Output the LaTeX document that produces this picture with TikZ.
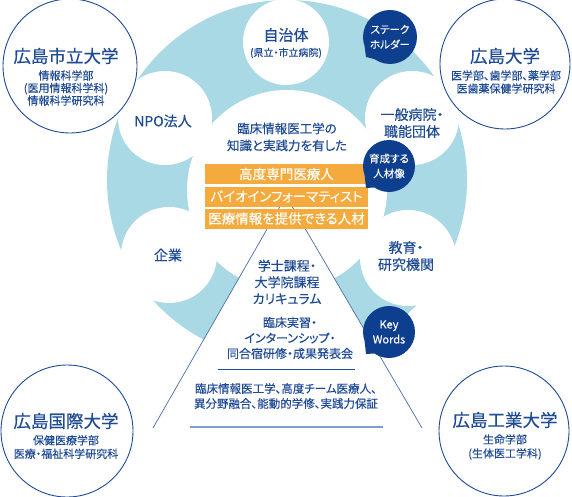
\documentclass[tikz,border=0pt]{standalone}
\usepackage{fontspec}
\setmainfont[RawFeature=+palt, FakeBold=0.3]{Noto Sans CJK JP}
\definecolor{navy}{HTML}{1F4A94}
\definecolor{bubble}{HTML}{0E3E8E}
\definecolor{ringblue}{HTML}{A8D9E5}
\definecolor{orng}{HTML}{F4AA3C}
\definecolor{tri}{HTML}{4A6CA8}
\definecolor{baseblue}{HTML}{7D9CCF}
\newcommand{\myfs}[2]{\fontsize{#1}{#2}\selectfont}
\tikzset{
  txt/.style={text=navy, inner sep=0pt, align=center},
  wtxt/.style={text=white, inner sep=0pt, align=center},
  univ/.style={draw=navy, line width=0.9pt, fill=white},
  obox/.style={fill=orng, minimum width=163pt, minimum height=20pt, inner sep=0pt, text=white, font=\myfs{13.5}{14}},
  bub/.style={fill=bubble},
}
\begin{document}
\begin{tikzpicture}[x=1pt,y=-1pt]
\useasboundingbox (0,0) rectangle (572,497);
% ring
\fill[ringblue] (287,180) circle (180);
\fill[white] (286,42) circle (43);
\fill[white] (165,118) circle (47);
\fill[white] (169,255) circle (48);
\fill[white] (412,118) circle (47);
\fill[white] (408,258) circle (48);
\fill[white] (287,190) circle (100);
% triangle
\coordinate (apex) at (286,196);
\coordinate (bl) at (153,428);
\coordinate (br) at (422,428);
\fill[white] (apex) -- (bl) -- (br) -- cycle;
\draw[tri, line width=0.7pt] (apex) -- (bl);
\draw[tri, line width=0.7pt] (apex) -- (br);
\coordinate (l1a) at (218,369);
\coordinate (l1b) at (355,369);
\coordinate (l2a) at (190,427);
\coordinate (l2b) at (383,427);
\draw[navy, line width=1pt] (l1a) -- (l1b);
\draw[baseblue, line width=2pt] (l2a) -- (l2b);
% orange boxes
\node[obox] (b1) at (286.5,174) {高度専門医療人};
\node[obox] (b2) at (286.5,196.5) {バイオインフォーマティスト};
\node[obox] (b3) at (286.5,218.5) {医療情報を提供できる人材};
% satellites text
\node[txt, font=\myfs{15}{16}] (jichi) at (286,35) {自治体};
\node[txt, font=\myfs{10}{12}] (jichi2) at (286,53) {(県立・市立病院)};
\node[txt, font=\myfs{14}{15}] (npo) at (163,121) {NPO法人};
\node[txt, font=\myfs{14}{15}] (kigyo) at (168,255) {企業};
\node[txt, font=\myfs{14}{17}] (byoin) at (412,123) {一般病院・\\職能団体};
\node[txt, font=\myfs{14}{17}] (kyoiku) at (406,256) {教育・\\研究機関};
% center text
\node[txt, font=\myfs{12.5}{17}] (rinsho) at (287,137) {臨床情報医工学の\\知識と実践力を有した};
\node[txt, font=\myfs{13}{16.5}] (gakushi) at (287,282) {学士課程・\\大学院課程\\カリキュラム};
\node[txt, font=\myfs{12}{15.5}] (jisshu) at (290,338) {臨床実習・\\インターンシップ・\\同合宿研修・成果発表会};
\node[txt, font=\myfs{11.5}{15}] (keyw) at (286,396) {臨床情報医工学、高度チーム医療人、\\異分野融合、能動的学修、実践力保証};
% bubbles
\fill[bub] (390,37) circle (27);
\fill[bub] (364.6,46.2) -- (366,57) -- (374.5,59.1) -- cycle;
\node[wtxt, font=\myfs{10.5}{15}] (stake) at (390,37) {ステーク\\ホルダー};
\fill[bub] (389,166) circle (26);
\fill[bub] (364.6,175) -- (366,188) -- (374,187.5) -- cycle;
\node[wtxt, font=\myfs{10.5}{15}] (ikusei) at (389,166) {育成する\\人材像};
\fill[bub] (389,332) circle (26);
\fill[bub] (364.6,341) -- (366,354) -- (374,353.5) -- cycle;
\node[wtxt, font=\myfs{11}{15}] (kw) at (389,332) {Key\\Words};
% universities
\draw[univ] (70,66) circle (67);
\node[txt, font=\myfs{17.5}{19}] (hcu) at (66,56) {広島市立大学};
\node[txt, font=\myfs{11}{12.5}] (hcu2) at (66,88) {情報科学部\\(医用情報科学科)\\情報科学研究科};
\draw[univ] (505,64) circle (65);
\node[txt, font=\myfs{17.5}{19}] (hu) at (505,56) {広島大学};
\node[txt, font=\myfs{11}{13}] (hu2) at (506,82) {医学部、歯学部、薬学部\\医歯薬保健学研究科};
\draw[univ] (67,431) circle (66);
\node[txt, font=\myfs{17.5}{19}] (hiu) at (66,421) {広島国際大学};
\node[txt, font=\myfs{11}{13.5}] (hiu2) at (66,447) {保健医療学部\\医療・福祉科学研究科};
\draw[univ] (504,431) circle (65);
\node[txt, font=\myfs{17.5}{19}] (hit) at (505,420) {広島工業大学};
\node[txt, font=\myfs{11}{14}] (hit2) at (505,447) {生命学部\\(生体医工学科)};
\end{tikzpicture}
\end{document}
